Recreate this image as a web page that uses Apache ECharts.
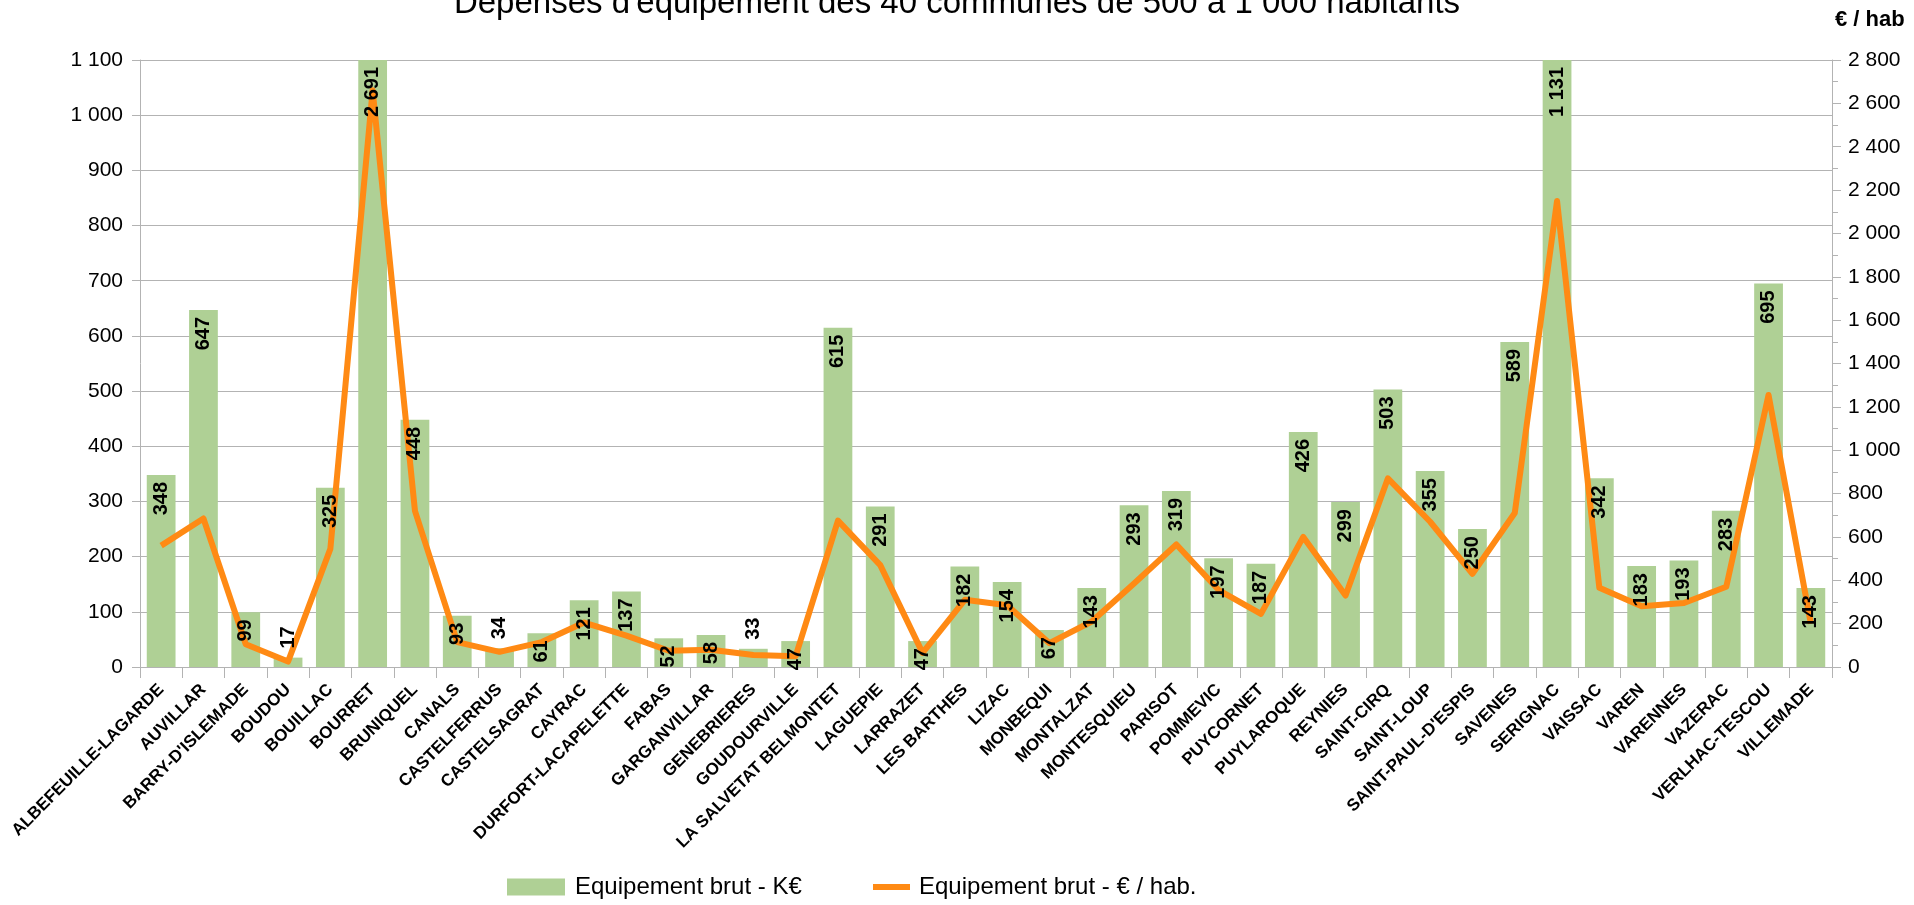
<!DOCTYPE html>
<html lang="fr">
<head>
<meta charset="utf-8">
<title>Dépenses d'équipement des 40 communes de 500 à 1 000 habitants</title>
<script src="https://cdn.jsdelivr.net/npm/echarts@6/dist/echarts.min.js"></script>
<style>
  html, body { margin: 0; padding: 0; background: #ffffff; }
  #chart { width: 1914px; height: 905px; }
</style>
</head>
<body>
<div id="chart"></div>
<script>
// Communes (axe des catégories)
const communes = [
  'ALBEFEUILLE-LAGARDE', 'AUVILLAR', "BARRY-D'ISLEMADE", 'BOUDOU', 'BOUILLAC',
  'BOURRET', 'BRUNIQUEL', 'CANALS', 'CASTELFERRUS', 'CASTELSAGRAT',
  'CAYRAC', 'DURFORT-LACAPELETTE', 'FABAS', 'GARGANVILLAR', 'GENEBRIERES',
  'GOUDOURVILLE', 'LA SALVETAT BELMONTET', 'LAGUEPIE', 'LARRAZET', 'LES BARTHES',
  'LIZAC', 'MONBEQUI', 'MONTALZAT', 'MONTESQUIEU', 'PARISOT',
  'POMMEVIC', 'PUYCORNET', 'PUYLAROQUE', 'REYNIES', 'SAINT-CIRQ',
  'SAINT-LOUP', "SAINT-PAUL-D'ESPIS", 'SAVENES', 'SERIGNAC', 'VAISSAC',
  'VAREN', 'VARENNES', 'VAZERAC', 'VERLHAC-TESCOU', 'VILLEMADE'
];

// Equipement brut en K€ (barres, axe de gauche)
const equipementKE = [
  348, 647, 99, 17, 325,
  2691, 448, 93, 34, 61,
  121, 137, 52, 58, 33,
  47, 615, 291, 47, 182,
  154, 67, 143, 293, 319,
  197, 187, 426, 299, 503,
  355, 250, 589, 1131, 342,
  183, 193, 283, 695, 143
];

// Equipement brut en € par habitant (courbe, axe de droite)
const equipementParHab = [
  560, 685, 105, 25, 545,
  2660, 720, 115, 70, 115,
  205, 145, 75, 80, 55,
  50, 675, 470, 65, 310,
  285, 110, 210, 385, 565,
  355, 245, 600, 330, 870,
  670, 430, 710, 2150, 365,
  280, 295, 370, 1255, 200
];

const leftTicks = { min: 0, max: 1100, interval: 100 };
const rightTicks = { min: 0, max: 2800, interval: 200 };

const FONT = "'Liberation Sans', Arial, sans-serif";
const GREEN = '#afd095';
const ORANGE = '#ff8a14';
const GRID_GRAY = '#b3b3b3';

// Séparateur de milliers à la française : « 1 100 »
const fmt = v => String(v).replace(/\B(?=(\d{3})+(?!\d))/g, ' ');

// Étiquettes verticales : dans le haut de la barre, ou au-dessus si la barre est trop courte
const labelData = equipementKE.map(v => {
  if (v < 40) {
    return { value: v, label: { position: 'top', align: 'left', distance: 9 } };
  }
  return { value: v };
});

const chart = echarts.init(document.getElementById('chart'), null, { renderer: 'canvas' });

chart.setOption({
  animation: false,
  backgroundColor: '#ffffff',
  textStyle: { fontFamily: FONT },
  title: {
    text: "Dépenses d'équipement des 40 communes de 500 à 1 000 habitants",
    left: 'center',
    top: -18,
    textStyle: { fontFamily: FONT, fontSize: 33, fontWeight: 'normal', color: '#000000' }
  },
  graphic: [{
    type: 'text',
    left: 1835,
    top: 9,
    style: { text: '€ / hab', fontFamily: FONT, fontSize: 22, fontWeight: 'bold', fill: '#000000' }
  }],
  legend: [
    {
      data: [{ name: 'Equipement brut - K€', icon: 'rect' }],
      left: 502,
      top: 870,
      itemWidth: 58,
      itemHeight: 17,
      textStyle: { fontFamily: FONT, fontSize: 24, color: '#000000', padding: [0, 0, 0, 5] }
    },
    {
      data: [{ name: 'Equipement brut - € / hab.', icon: 'rect' }],
      left: 868,
      top: 870,
      itemWidth: 37,
      itemHeight: 6,
      itemStyle: { color: ORANGE },
      textStyle: { fontFamily: FONT, fontSize: 24, color: '#000000', padding: [0, 0, 0, 4] }
    }
  ],
  grid: { left: 140, right: 82, top: 60, bottom: 238, containLabel: false },
  xAxis: {
    type: 'category',
    data: communes,
    boundaryGap: true,
    axisLine: { show: true, lineStyle: { color: GRID_GRAY, width: 1 } },
    axisTick: { show: true, alignWithLabel: false, length: 11, lineStyle: { color: GRID_GRAY } },
    axisLabel: {
      interval: 0,
      rotate: 45,
      margin: 20,
      fontFamily: FONT,
      fontSize: 17,
      fontWeight: 'bold',
      color: '#000000'
    },
    splitLine: { show: false }
  },
  yAxis: [
    {
      type: 'value',
      min: leftTicks.min,
      max: leftTicks.max,
      interval: leftTicks.interval,
      position: 'left',
      axisLine: { show: true, lineStyle: { color: GRID_GRAY } },
      axisTick: { show: true, length: 8, lineStyle: { color: GRID_GRAY } },
      axisLabel: { formatter: fmt, fontFamily: FONT, fontSize: 21, color: '#000000', margin: 17 },
      splitLine: { show: true, lineStyle: { color: GRID_GRAY, width: 1 } }
    },
    {
      type: 'value',
      min: rightTicks.min,
      max: rightTicks.max,
      interval: rightTicks.interval,
      position: 'right',
      axisLine: { show: true, lineStyle: { color: GRID_GRAY } },
      axisTick: { show: true, length: 9, lineStyle: { color: GRID_GRAY } },
      minorTick: { show: true, splitNumber: 2, length: 6, lineStyle: { color: GRID_GRAY } },
      axisLabel: { formatter: fmt, fontFamily: FONT, fontSize: 21, color: '#000000', margin: 16 },
      splitLine: { show: false }
    }
  ],
  series: [
    {
      name: 'Equipement brut - K€',
      type: 'bar',
      yAxisIndex: 0,
      data: equipementKE,
      barCategoryGap: '32%',
      clip: true,
      z: 1,
      itemStyle: { color: GREEN },
      silent: true
    },
    {
      name: 'Equipement brut - € / hab.',
      type: 'line',
      yAxisIndex: 1,
      data: equipementParHab,
      symbol: 'none',
      smooth: false,
      z: 2,
      lineStyle: { color: ORANGE, width: 6, join: 'round' },
      itemStyle: { color: ORANGE },
      silent: true
    },
    {
      // Couche transparente portant les valeurs, dessinée au-dessus de la courbe
      name: 'valeurs',
      type: 'bar',
      yAxisIndex: 0,
      data: labelData,
      barCategoryGap: '32%',
      barGap: '-100%',
      clip: true,
      z: 3,
      itemStyle: { color: 'rgba(0,0,0,0)' },
      silent: true,
      label: {
        show: true,
        position: 'insideTop',
        distance: 7,
        rotate: 90,
        align: 'right',
        verticalAlign: 'middle',
        formatter: p => fmt(p.value),
        fontFamily: FONT,
        fontSize: 20,
        fontWeight: 'bold',
        color: '#000000'
      }
    }
  ]
});
</script>
</body>
</html>
